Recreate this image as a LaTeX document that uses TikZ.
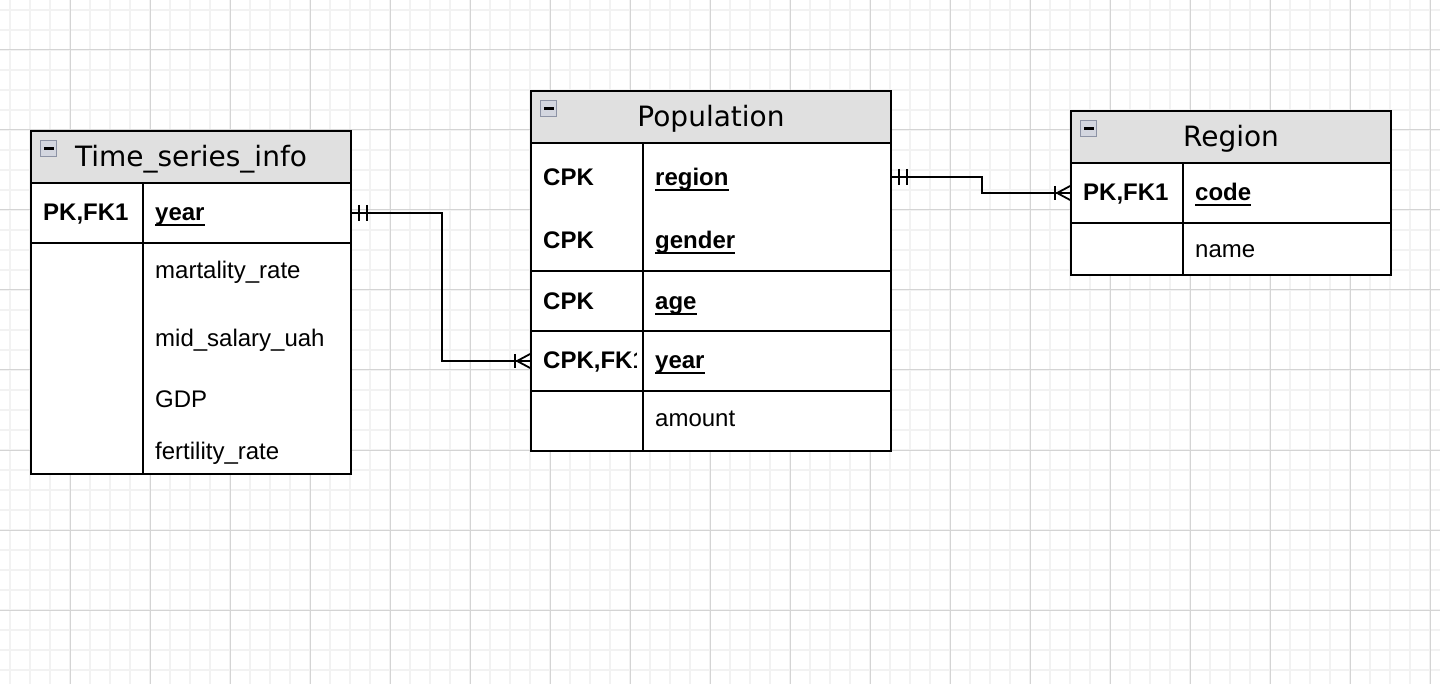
\documentclass[tikz,border=0pt]{standalone}
\usepackage{fontspec}
\setmainfont{Liberation Sans}
\newfontfamily\titlefont{DejaVu Sans}
\usetikzlibrary{calc}

\definecolor{hdrgray}{HTML}{E0E0E0}
\definecolor{iconfill}{HTML}{D3D6DF}
\definecolor{icondraw}{HTML}{8D93A5}
\definecolor{gridminor}{HTML}{F2F2F2}
\definecolor{gridmajor}{HTML}{D4D4D4}

\newcommand{\bodysize}{\fontsize{24}{28}\selectfont}
\newcommand{\ulkey}[1]{\setbox0=\hbox{#1}\rlap{\rule[-5pt]{\wd0}{2.2pt}}\box0}

\tikzset{
  cell/.style={draw, fill=white, line width=1.8pt, inner sep=0pt},
  hdr/.style={cell, fill=hdrgray, minimum height=52pt},
  icon/.style={draw=icondraw, fill=iconfill, line width=1.2pt, minimum size=16pt, inner sep=0pt,
    path picture={\fill[black] (path picture bounding box.center) +(-5pt,-1.2pt) rectangle +(5pt,1.2pt);}},
  titletxt/.style={anchor=base, inner sep=0pt, font=\titlefont\fontsize{28}{32}\selectfont},
  keytxt/.style={anchor=base west, inner sep=0pt, font=\bodysize\bfseries},
  fldtxt/.style={anchor=base west, inner sep=0pt, font=\bodysize},
  link/.style={line width=1.8pt},
}

\begin{document}
\begin{tikzpicture}[x=1pt, y=-1pt]
  \useasboundingbox (0,0) rectangle (1440,684);
  % grid
  \foreach \x in {10,30,...,1430} \draw[gridminor, line width=1.5pt] (\x,0) -- (\x,684);
  \foreach \y in {10,30,...,670} \draw[gridminor, line width=1.5pt] (0,\y) -- (1440,\y);
  \foreach \x in {70,150,...,1430} \draw[gridmajor, line width=1pt] (\x,0) -- (\x,684);
  \foreach \y in {50,130,...,610} \draw[gridmajor, line width=1pt] (0,\y) -- (1440,\y);

  % Time_series_info
  \node[hdr, minimum width=320pt] (tsHead) at (191,157) {};
  \node[icon] (tsIcon) at (48.5,148.5) {};
  \node[titletxt] (tsTitle) at (191,167) {Time\_series\_info};
  \node[cell, minimum width=112pt, minimum height=60pt] (tsPKKey) at (87,213) {};
  \node[cell, minimum width=208pt, minimum height=60pt] (tsPKFld) at (247,213) {};
  \node[cell, minimum width=112pt, minimum height=231pt] (tsAttrKey) at (87,358.5) {};
  \node[cell, minimum width=208pt, minimum height=231pt] (tsAttrFld) at (247,358.5) {};
  \node[keytxt] (tsPK) at (43,221) {PK,FK1};
  \node[keytxt] (tsYear) at (155,221) {\ulkey{year}};
  \node[fldtxt] (tsMort) at (155,279) {martality\_rate};
  \node[fldtxt] (tsSalary) at (155,347) {mid\_salary\_uah};
  \node[fldtxt] (tsGdp) at (155,407) {GDP};
  \node[fldtxt] (tsFert) at (155,459) {fertility\_rate};

  % Population
  \node[hdr, minimum width=360pt] (popHead) at (711,117) {};
  \node[icon] (popIcon) at (548.5,108.5) {};
  \node[titletxt] (popTitle) at (711,127) {Population};
  \node[cell, minimum width=112pt, minimum height=128pt] (popPKKey) at (587,207) {};
  \node[cell, minimum width=248pt, minimum height=128pt] (popPKFld) at (767,207) {};
  \node[cell, minimum width=112pt, minimum height=60pt] (popAgeKey) at (587,301) {};
  \node[cell, minimum width=248pt, minimum height=60pt] (popAgeFld) at (767,301) {};
  \node[cell, minimum width=112pt, minimum height=60pt] (popYearKey) at (587,361) {};
  \node[cell, minimum width=248pt, minimum height=60pt] (popYearFld) at (767,361) {};
  \node[cell, minimum width=112pt, minimum height=60pt] (popAmtKey) at (587,421) {};
  \node[cell, minimum width=248pt, minimum height=60pt] (popAmtFld) at (767,421) {};
  \node[keytxt] (popCpk1) at (543,186) {CPK};
  \node[keytxt] (popRegion) at (655,186) {\ulkey{region}};
  \node[keytxt] (popCpk2) at (543,249) {CPK};
  \node[keytxt] (popGender) at (655,249) {\ulkey{gender}};
  \node[keytxt] (popCpk3) at (543,310) {CPK};
  \node[keytxt] (popAge) at (655,310) {\ulkey{age}};
  \begin{scope}
    \clip (531,331) rectangle (636,391);
    \node[keytxt] (popCpk4) at (543,369) {CPK,FK1};
  \end{scope}
  \node[keytxt] (popYear) at (655,369) {\ulkey{year}};
  \node[fldtxt] (popAmount) at (655,426) {amount};

  % Region
  \node[hdr, minimum width=320pt] (rgHead) at (1231,137) {};
  \node[icon] (rgIcon) at (1088.5,128.5) {};
  \node[titletxt] (rgTitle) at (1231,147) {Region};
  \node[cell, minimum width=112pt, minimum height=60pt] (rgCodeKey) at (1127,193) {};
  \node[cell, minimum width=208pt, minimum height=60pt] (rgCodeFld) at (1287,193) {};
  \node[cell, minimum width=112pt, minimum height=52pt] (rgNameKey) at (1127,249) {};
  \node[cell, minimum width=208pt, minimum height=52pt] (rgNameFld) at (1287,249) {};
  \node[keytxt] (rgPK) at (1083,201) {PK,FK1};
  \node[keytxt] (rgCode) at (1195,201) {\ulkey{code}};
  \node[fldtxt] (rgName) at (1195,258) {name};

  % relations
  \coordinate (popRegionEnd) at (popPKFld.east |- 0,177);
  \draw[link] (tsPKFld.east) -- ++(90,0) |- (popYearKey.west);
  \draw[link] ([xshift=7pt,yshift=8pt]tsPKFld.east) -- ++(0,16);
  \draw[link] ([xshift=15pt,yshift=8pt]tsPKFld.east) -- ++(0,16);
  \draw[link] ([yshift=7pt]popYearKey.west) -- ([xshift=-13pt]popYearKey.west) -- ([yshift=-7pt]popYearKey.west);
  \draw[link] ([xshift=-15pt,yshift=7pt]popYearKey.west) -- ([xshift=-15pt,yshift=-7pt]popYearKey.west);

  \draw[link] (popRegionEnd) -- ++(90,0) |- (rgCodeKey.west);
  \draw[link] ([xshift=7pt,yshift=8pt]popRegionEnd) -- ++(0,16);
  \draw[link] ([xshift=15pt,yshift=8pt]popRegionEnd) -- ++(0,16);
  \draw[link] ([yshift=7pt]rgCodeKey.west) -- ([xshift=-13pt]rgCodeKey.west) -- ([yshift=-7pt]rgCodeKey.west);
  \draw[link] ([xshift=-15pt,yshift=7pt]rgCodeKey.west) -- ([xshift=-15pt,yshift=-7pt]rgCodeKey.west);
\end{tikzpicture}
\end{document}
